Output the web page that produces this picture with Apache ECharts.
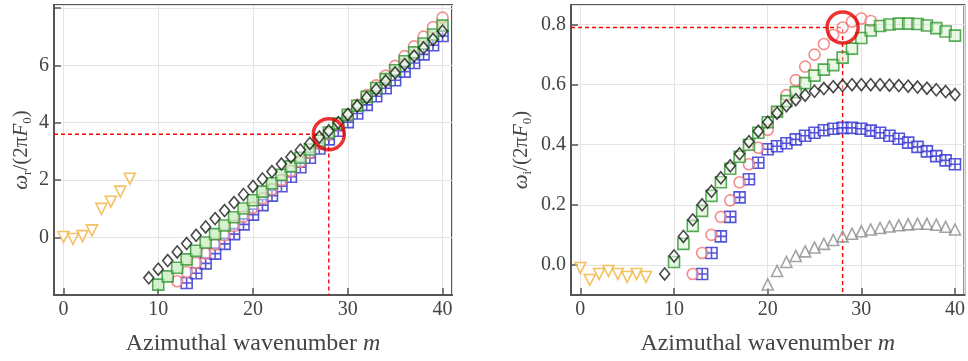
<!DOCTYPE html>
<html>
<head>
<meta charset="utf-8">
<script src="https://cdn.jsdelivr.net/npm/echarts@6/dist/echarts.min.js"></script>
<style>
  html, body { margin: 0; padding: 0; background: #fff; }
  #chart { width: 968px; height: 361px; }
</style>
</head>
<body>
<div id="chart"></div>
<script>
// Azimuthal wavenumbers of each branch
const mOrange = [0, 1, 2, 3, 4, 5, 6, 7];
const mBlack = [9, 10, 11, 12, 13, 14, 15, 16, 17, 18, 19, 20, 21, 22, 23, 24, 25, 26, 27, 28, 29, 30, 31, 32, 33, 34, 35, 36, 37, 38, 39, 40];
const mGreen = [10, 11, 12, 13, 14, 15, 16, 17, 18, 19, 20, 21, 22, 23, 24, 25, 26, 27, 28, 29, 30, 31, 32, 33, 34, 35, 36, 37, 38, 39, 40];
const mRed = [12, 13, 14, 15, 16, 17, 18, 19, 20, 21, 22, 23, 24, 25, 26, 27, 28, 29, 30, 31, 32, 33, 34, 35, 36, 37, 38, 39, 40];
const mRedGrowth = [12, 13, 14, 15, 16, 17, 18, 19, 20, 21, 22, 23, 24, 25, 26, 27, 28, 29, 30, 31];
const mBlue = [13, 14, 15, 16, 17, 18, 19, 20, 21, 22, 23, 24, 25, 26, 27, 28, 29, 30, 31, 32, 33, 34, 35, 36, 37, 38, 39, 40];
const mGray = [20, 21, 22, 23, 24, 25, 26, 27, 28, 29, 30, 31, 32, 33, 34, 35, 36, 37, 38, 39, 40];

// Real part of the frequency, omega_r / (2 pi F0)
const wrOrange = [0.02, -0.05, 0.05, 0.25, 1.0, 1.25, 1.6, 2.05];
const wrBlack = [-1.40, -1.10, -0.80, -0.50, -0.21, 0.08, 0.37, 0.66, 0.94, 1.22, 1.50, 1.78, 2.04, 2.30, 2.56, 2.81, 3.05, 3.28, 3.50, 3.72, 4.00, 4.29, 4.58, 4.87, 5.16, 5.45, 5.74, 6.03, 6.32, 6.61, 6.90, 7.19];
const wrGreen = [-1.64, -1.35, -1.05, -0.76, -0.46, -0.17, 0.12, 0.42, 0.71, 1.01, 1.30, 1.60, 1.89, 2.19, 2.48, 2.78, 3.07, 3.37, 3.66, 3.97, 4.28, 4.59, 4.90, 5.21, 5.52, 5.83, 6.14, 6.45, 6.76, 7.07, 7.38];
const wrRed = [-1.52, -1.20, -0.88, -0.56, -0.24, 0.08, 0.40, 0.72, 1.04, 1.36, 1.68, 2.00, 2.32, 2.64, 2.96, 3.28, 3.60, 3.94, 4.28, 4.62, 4.96, 5.30, 5.64, 5.98, 6.32, 6.66, 7.00, 7.33, 7.66];
const wrBlue = [-1.58, -1.24, -0.90, -0.56, -0.22, 0.12, 0.46, 0.80, 1.13, 1.46, 1.79, 2.12, 2.45, 2.78, 3.10, 3.42, 3.72, 4.02, 4.32, 4.62, 4.92, 5.20, 5.48, 5.78, 6.08, 6.38, 6.70, 7.02];

// Growth rate, omega_i / (2 pi F0)
const wiOrange = [-0.01, -0.05, -0.03, -0.02, -0.03, -0.04, -0.03, -0.04];
const wiBlack = [-0.03, 0.03, 0.095, 0.15, 0.2, 0.245, 0.29, 0.33, 0.37, 0.41, 0.445, 0.475, 0.505, 0.53, 0.55, 0.565, 0.578, 0.587, 0.593, 0.597, 0.6, 0.6, 0.6, 0.6, 0.598, 0.597, 0.595, 0.592, 0.588, 0.583, 0.577, 0.567];
const wiGreen = [0.01, 0.07, 0.13, 0.18, 0.23, 0.275, 0.32, 0.36, 0.4, 0.44, 0.475, 0.51, 0.545, 0.575, 0.605, 0.63, 0.65, 0.665, 0.69, 0.72, 0.755, 0.78, 0.795, 0.8, 0.803, 0.803, 0.802, 0.797, 0.788, 0.777, 0.763];
const wiRed = [-0.03, 0.04, 0.1, 0.16, 0.215, 0.275, 0.335, 0.39, 0.45, 0.51, 0.565, 0.615, 0.66, 0.7, 0.735, 0.765, 0.79, 0.81, 0.82, 0.812];
const wiBlue = [-0.03, 0.04, 0.095, 0.16, 0.225, 0.285, 0.34, 0.385, 0.395, 0.405, 0.418, 0.43, 0.44, 0.448, 0.453, 0.456, 0.456, 0.453, 0.447, 0.44, 0.43, 0.42, 0.407, 0.393, 0.378, 0.362, 0.348, 0.335];
const wiGray = [-0.065, -0.02, 0.01, 0.03, 0.045, 0.058, 0.07, 0.083, 0.095, 0.104, 0.112, 0.118, 0.123, 0.128, 0.132, 0.135, 0.137, 0.137, 0.134, 0.127, 0.118];

// Most unstable mode
const mMax = 28;
const wrMax = 3.6;
const wiMax = 0.79;

// Axis extents
const xRange = [-1, 41];
const wrRange = [-2, 8.1];
const wiRange = [-0.1, 0.865];

const pairs = (xs, ys) => xs.map((x, i) => [x, ys[i]]);

const serif = '"Liberation Serif", "DejaVu Serif", serif';
const frame = '#555';

// open square with a cross through it
const boxSym = 'path://M0,0H10V10H0Z M5,0V10 M0,5H10';

function markers(name, xs, ys, panel, symbol, color, opts) {
  return Object.assign({
    name: name,
    type: 'scatter',
    xAxisIndex: panel,
    yAxisIndex: panel,
    data: pairs(xs, ys),
    symbol: symbol,
    symbolSize: 11,
    itemStyle: { color: 'rgba(255,255,255,0.55)', borderColor: color, borderWidth: 1.6 },
    emphasis: { disabled: true },
    silent: true
  }, opts || {});
}

function guide(panel, y, yMin) {
  return [
    {
      type: 'line', xAxisIndex: panel, yAxisIndex: panel,
      data: [[xRange[0], y], [mMax, y], [mMax, yMin]],
      symbol: 'none', silent: true, z: 1,
      lineStyle: { color: '#ff0000', width: 1.4, type: [4, 3] }
    },
    {
      type: 'scatter', xAxisIndex: panel, yAxisIndex: panel,
      data: [[mMax, y]], symbol: 'circle', symbolSize: 31, silent: true, z: 5,
      itemStyle: { color: 'transparent', borderColor: '#e60000', borderWidth: 3.5 }
    }
  ];
}

function xAxis(idx) {
  return {
    type: 'value', gridIndex: idx, min: xRange[0], max: xRange[1], splitNumber: 5,
    name: '{a|Azimuthal wavenumber }{i|m}', nameLocation: 'middle', nameGap: 37,
    nameTextStyle: { rich: {
      a: { fontFamily: serif, fontSize: 24, color: '#444' },
      i: { fontFamily: serif, fontSize: 24, fontStyle: 'italic', color: '#444' }
    } },
    axisLine: { show: true, onZero: false, lineStyle: { color: frame, width: 2 } },
    axisTick: { show: true, inside: true, length: 7, lineStyle: { color: frame, width: 1.5 } },
    axisLabel: { showMinLabel: false, showMaxLabel: false, margin: 5, fontFamily: serif, fontSize: 20, color: '#444' },
    splitLine: { show: true, lineStyle: { color: '#e4e4e4', width: 1 } }
  };
}

function yAxis(idx, range, sub, gap, fmt) {
  return {
    type: 'value', gridIndex: idx, min: range[0], max: range[1], splitNumber: 5,
    name: '{w|ω}{s|' + sub + '}{t|/(2π}{f|F}{s|0}{t|)}',
    nameLocation: 'middle', nameRotate: 90, nameGap: gap,
    nameTextStyle: { rich: {
      w: { fontFamily: serif, fontSize: 21, fontStyle: 'italic', color: '#444', lineHeight: 26 },
      f: { fontFamily: serif, fontSize: 21, fontStyle: 'italic', color: '#444', lineHeight: 26 },
      t: { fontFamily: serif, fontSize: 21, color: '#444', lineHeight: 26 },
      s: { fontFamily: serif, fontSize: 13, color: '#444', lineHeight: 12, verticalAlign: 'bottom' }
    } },
    axisLine: { show: true, onZero: false, lineStyle: { color: frame, width: 2 } },
    axisTick: { show: true, inside: true, length: 7, lineStyle: { color: frame, width: 1.5 } },
    axisLabel: { showMinLabel: false, showMaxLabel: false, margin: 5, fontFamily: serif, fontSize: 20, color: '#444', formatter: fmt },
    splitLine: { show: true, lineStyle: { color: '#e4e4e4', width: 1 } }
  };
}

const chart = echarts.init(document.getElementById('chart'), null, { renderer: 'canvas' });

const C = {
  orange: '#f2b23a',
  black: '#1a1a1a',
  green: '#2f962f',
  red: '#f07272',
  blue: '#2a2ad0',
  gray: '#8c8c8c'
};

chart.setOption({
  animation: false,
  backgroundColor: '#fff',
  grid: [
    { left: 54, top: 5, width: 398, height: 303, show: true, borderColor: frame, borderWidth: 2, backgroundColor: 'transparent' },
    { left: 571, top: 5, width: 396, height: 303, show: true, borderColor: frame, borderWidth: 2, backgroundColor: 'transparent' }
  ],
  xAxis: [xAxis(0), xAxis(1)],
  yAxis: [
    yAxis(0, wrRange, 'r', 20, v => (v === 8 || v === -2) ? '' : String(v)),
    yAxis(1, wiRange, 'i', 37, v => v.toFixed(1))
  ],
  series: [
    // frequency panel
    ...guide(0, wrMax, wrRange[0]),
    markers('orange', mOrange, wrOrange, 0, 'triangle', C.orange, { symbolRotate: 180 }),
    markers('blue', mBlue, wrBlue, 0, boxSym, C.blue),
    markers('red', mRed, wrRed, 0, 'circle', C.red),
    markers('green', mGreen, wrGreen, 0, 'rect', C.green, { itemStyle: { color: 'rgba(190,235,180,0.8)', borderColor: C.green, borderWidth: 1.6 } }),
    markers('black', mBlack, wrBlack, 0, 'diamond', C.black, { symbolSize: [10, 12] }),
    // growth-rate panel
    ...guide(1, wiMax, wiRange[0]),
    markers('gray', mGray, wiGray, 1, 'triangle', C.gray),
    markers('orange', mOrange, wiOrange, 1, 'triangle', C.orange, { symbolRotate: 180 }),
    markers('blue', mBlue, wiBlue, 1, boxSym, C.blue),
    markers('red', mRedGrowth, wiRed, 1, 'circle', C.red),
    markers('green', mGreen, wiGreen, 1, 'rect', C.green, { itemStyle: { color: 'rgba(200,240,190,0.5)', borderColor: C.green, borderWidth: 1.6 } }),
    markers('black', mBlack, wiBlack, 1, 'diamond', C.black, { symbolSize: [10, 12] })
  ]
});
</script>
</body>
</html>
